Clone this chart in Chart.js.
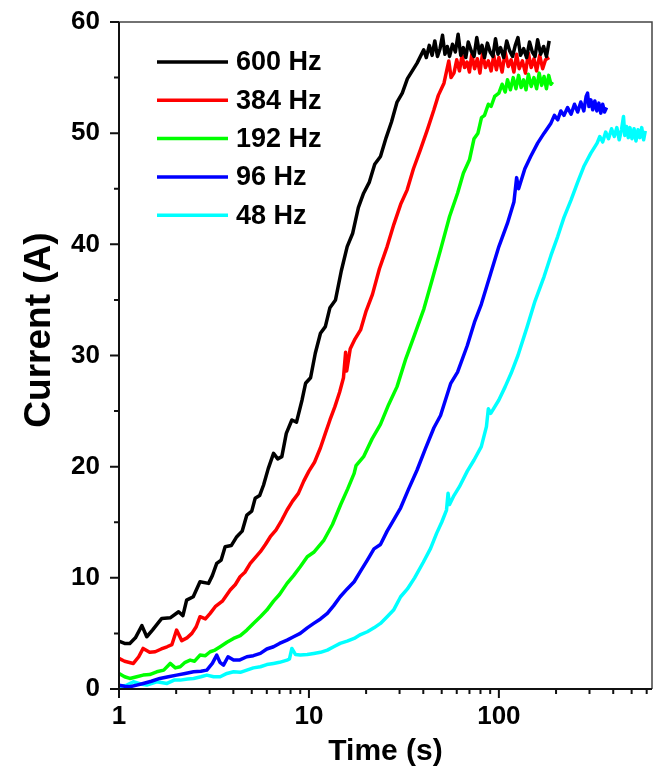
<!DOCTYPE html>
<html>
<head>
<meta charset="utf-8">
<script src="https://cdn.jsdelivr.net/npm/chart.js@4"></script>
<style>
  html, body { margin: 0; padding: 0; background: #fff; }
  #wrap { width: 656px; height: 771px; }
</style>
</head>
<body>
<div id="wrap"><canvas id="grafico" width="656" height="771"></canvas></div>
<script>
const legendas = ["600 Hz", "384 Hz", "192 Hz", "96 Hz", "48 Hz"];
const cores = ["#000000", "#ff0000", "#00ff00", "#0000ff", "#00ffff"];

// 600 Hz
const t600 = [1.0, 1.07, 1.14, 1.22, 1.32, 1.4, 1.5, 1.6, 1.68, 1.86, 2.06, 2.17, 2.27, 2.46, 2.67, 2.96, 3.1, 3.27, 3.45, 3.62, 3.9, 4.17, 4.45, 4.71, 5.0, 5.21, 5.5, 5.77, 6.1, 6.51, 6.85, 7.2, 7.6, 8.13, 8.6, 9.2, 9.6, 10.2, 10.8, 11.5, 12.2, 12.9, 13.8, 14.8, 15.9, 17.0, 18.2, 19.4, 20.8, 22.2, 23.8, 25.5, 27.2, 29.1, 31.0, 33.0, 35.0, 37.1,
  40.2, 41.5, 43, 44.5, 46, 47.5, 49, 50.5, 52, 53.5, 55, 57, 59, 61, 63, 65, 67, 69, 71.5, 74, 76.5, 79, 81.5, 84, 87, 90, 93, 96, 99, 102, 106, 110, 114, 118, 122, 126, 130, 135, 140, 145, 150, 155, 160, 166, 172, 178, 184];
const i600 = [4.3, 4.1, 4.1, 4.6, 5.7, 4.7, 5.3, 5.9, 6.35, 6.4, 6.95, 6.6, 8.0, 8.3, 9.65, 9.5, 10.2, 11.3, 11.6, 12.8, 12.9, 13.7, 14.2, 15.65, 16.0, 17.15, 17.4, 18.35, 19.8, 21.2, 20.7, 20.9, 23.0, 24.2, 24.0, 26.0, 27.5, 28.0, 30.2, 32.0, 32.6, 34.3, 35.0, 37.6, 39.8, 41.0, 43.3, 44.6, 45.6, 47.2, 47.9, 49.6, 51.0, 52.8, 53.6, 54.9, 55.6, 56.3,
  57.5, 56.8, 57.9, 57.0, 58.3, 56.9, 57.6, 58.8, 57.1, 57.8, 56.9, 58.0, 57.3, 58.9, 57.0, 57.7, 56.8, 58.2, 57.4, 56.9, 58.6, 57.2, 57.9, 56.8, 58.1, 57.3, 56.9, 58.5, 57.1, 57.7, 56.8, 58.3, 57.4, 56.9, 57.9, 58.6, 57.0, 57.6, 56.8, 58.2, 57.3, 56.9, 58.4, 57.1, 57.8, 56.9, 58.3];

// 384 Hz
const t384 = [1.0, 1.07, 1.19, 1.27, 1.34, 1.45, 1.55, 1.67, 1.79, 1.9, 2.01, 2.14, 2.28, 2.42, 2.55, 2.67, 2.85, 3.02, 3.21, 3.5, 3.85, 4.1, 4.34, 4.6, 4.91, 5.2, 5.55, 5.9, 6.26, 6.7, 7.2, 7.67, 8.2, 8.8, 9.39, 10.0, 10.7, 11.5, 12.2, 12.9, 13.7, 14.5, 15.2, 15.6, 15.8, 16.5, 17.5, 18.7, 20.0, 21.6, 23.5, 25.8, 28.0, 30.4, 32.9, 35.5, 38.6, 42, 45.5, 48, 51.4, 54.5, 56,
  58, 60, 62, 64, 66, 68, 70, 72, 74.5, 77, 79.5, 82, 85, 88, 91, 94, 97, 100, 104, 108, 112, 116, 120, 124, 128, 133, 138, 143, 148, 153, 158, 164, 170, 176, 184];
const i384 = [2.75, 2.5, 2.3, 2.9, 3.65, 3.3, 3.35, 3.6, 3.8, 4.0, 5.3, 4.35, 4.6, 5.0, 5.6, 6.5, 6.3, 6.8, 7.4, 7.9, 8.9, 9.4, 10.1, 10.5, 11.3, 11.8, 12.35, 13.0, 13.7, 14.3, 15.2, 16.1, 16.9, 17.6, 18.7, 19.6, 20.4, 21.7, 23.0, 24.2, 25.4, 26.7, 28.0, 30.3, 28.6, 30.6, 31.5, 32.3, 34.0, 35.5, 37.8, 39.8, 41.8, 43.6, 44.9, 46.8, 48.5, 50.3, 52.1, 53.4, 54.5, 56.5, 55.0,
  55.4, 56.6, 55.6, 57.0, 55.9, 56.4, 55.5, 57.1, 55.8, 56.7, 55.4, 57.2, 55.9, 56.5, 55.6, 57.0, 55.7, 56.8, 55.5, 57.3, 56.0, 56.6, 55.5, 57.1, 55.8, 56.5, 55.4, 57.2, 55.9, 56.7, 55.6, 57.0, 55.8, 56.6, 56.8];

// 192 Hz
const t192 = [1.0, 1.07, 1.14, 1.24, 1.34, 1.45, 1.58, 1.72, 1.86, 1.98, 2.1, 2.23, 2.37, 2.5, 2.67, 2.85, 3.02, 3.2, 3.41, 3.7, 4.01, 4.35, 4.71, 5.1, 5.55, 6.0, 6.51, 7.0, 7.67, 8.3, 9.0, 9.8, 10.6, 12.0, 13.3, 14.7, 16.0, 17.3, 17.7, 19.4, 21.5, 23.8, 26.3, 29.1, 32.2, 35.7, 40.3, 44.5, 49.3, 55,
  60.6, 65, 70, 74, 77.6, 81, 84, 88, 91, 95, 100, 104, 108, 111, 115, 119, 123, 127, 131, 135, 139, 143, 148, 153, 158, 163, 168, 173, 178, 183, 188, 192];
const i192 = [1.4, 1.1, 0.95, 1.1, 1.25, 1.3, 1.55, 1.7, 2.3, 1.9, 2.0, 2.4, 2.6, 2.5, 3.05, 3.0, 3.35, 3.5, 3.8, 4.2, 4.55, 4.8, 5.3, 5.9, 6.5, 7.1, 7.9, 8.5, 9.5, 10.2, 11.0, 11.9, 12.3, 13.4, 14.8, 16.6, 18.0, 19.4, 20.1, 20.9, 22.5, 23.8, 25.6, 27.2, 29.6, 31.7, 34.2, 36.8, 39.5, 42.5,
  44.6, 46.4, 47.6, 49.5, 50.0, 51.4, 51.6, 52.6, 52.4, 53.3, 53.6, 54.4, 53.7, 54.8, 53.9, 55.0, 54.0, 55.2, 54.1, 54.8, 53.9, 55.3, 54.2, 55.0, 54.0, 55.4, 54.3, 55.1, 54.0, 55.2, 54.4, 54.6];

// 96 Hz
const t96 = [1.0, 1.07, 1.14, 1.24, 1.34, 1.48, 1.64, 1.82, 2.01, 2.23, 2.47, 2.7, 2.9, 3.1, 3.27, 3.4, 3.55, 3.75, 4.01, 4.3, 4.71, 5.1, 5.55, 6.0, 6.51, 7.0, 7.67, 8.3, 9.0, 9.8, 10.6, 11.5, 12.5, 13.5, 14.6, 15.9, 17.3, 18.7, 20.3, 22.0, 23.8, 25.8, 27.9, 30.4, 33.5, 37.1, 41, 45.5, 49.3, 55.8, 60.6, 68.2, 74.4, 80.8, 90.6, 100, 111, 120, 124, 127, 137, 147, 160, 173,
  188, 196, 204, 212, 220, 230, 240, 250, 260, 270, 280, 288, 293, 298, 305, 312, 320, 328, 336, 344, 352, 360, 369];
const i96 = [0.35, 0.25, 0.2, 0.35, 0.5, 0.7, 0.95, 1.1, 1.25, 1.4, 1.55, 1.6, 1.7, 2.3, 3.05, 2.4, 2.15, 2.9, 2.6, 2.6, 2.9, 3.0, 3.2, 3.6, 3.8, 4.1, 4.4, 4.7, 5.0, 5.5, 5.9, 6.3, 6.8, 7.5, 8.3, 9.0, 9.65, 10.6, 11.6, 12.6, 13.0, 14.2, 15.2, 16.3, 18.0, 19.7, 21.6, 23.5, 24.6, 27.5, 28.5, 30.9, 33.0, 34.6, 37.4, 39.8, 41.9, 43.8, 46.0, 45.0, 46.8, 47.9, 49.1, 50.0,
  50.9, 51.6, 51.2, 52.0, 51.6, 52.3, 51.7, 52.6, 51.9, 52.8, 52.0, 53.3, 53.6, 52.4, 53.0, 52.1, 52.9, 52.0, 52.7, 51.8, 52.6, 51.9, 52.3];

// 48 Hz
const t48 = [1.0, 1.1, 1.19, 1.3, 1.4, 1.58, 1.79, 1.95, 2.1, 2.3, 2.47, 2.7, 2.9, 3.15, 3.41, 3.7, 4.01, 4.35, 4.71, 5.1, 5.55, 6.0, 6.51, 7.0, 7.67, 7.9, 8.13, 8.5, 9.0, 9.8, 10.6, 11.5, 12.5, 13.5, 14.6, 15.9, 17.3, 18.7, 20.3, 22.0, 23.8, 25.8, 27.9, 30.4, 33, 36, 40, 43.7, 47, 50, 53, 54, 55, 58, 62, 68.2, 74, 80.8, 86, 88, 90.6, 100, 108, 116, 126, 141, 155, 173, 188, 204, 220, 240, 260, 280, 305,
  329, 340, 352, 365, 378, 392, 405, 418, 430, 442, 453, 460, 470, 480, 490, 502, 515, 527, 540, 552, 565, 578, 590];
const i48 = [0.2, 0.35, 0.65, 0.45, 0.35, 0.65, 0.5, 0.8, 0.8, 0.9, 0.95, 1.1, 1.25, 1.1, 1.1, 1.4, 1.55, 1.5, 1.7, 1.9, 2.0, 2.2, 2.3, 2.4, 2.6, 2.7, 3.65, 3.1, 3.05, 3.1, 3.2, 3.3, 3.5, 3.8, 4.1, 4.3, 4.55, 4.9, 5.15, 5.5, 5.9, 6.5, 7.1, 8.3, 9.0, 10.0, 11.4, 12.65, 14.0, 15.0, 16.1, 17.6, 16.6, 17.4, 18.2, 19.6, 20.6, 21.8, 23.6, 25.2, 24.8, 26.0, 27.2, 28.4, 30.0, 32.6, 34.9, 37.1, 39.0, 40.7, 42.4, 44.0, 45.6, 47.0, 48.2,
  49.1, 49.7, 49.2, 50.1, 49.5, 50.4, 49.7, 50.5, 49.4, 50.3, 51.5, 49.8, 50.6, 49.6, 50.5, 49.5, 50.4, 49.3, 50.3, 49.6, 50.5, 49.4, 50.2];

const tempos = [t600, t384, t192, t96, t48];
const correntes = [i600, i384, i192, i96, i48];

const yMaiores = [0, 10, 20, 30, 40, 50, 60];
const yMenores = [5, 15, 25, 35, 45, 55];
const xMaiores = [1, 10, 100];
const xMenores = [2, 3, 4, 5, 6, 7, 8, 9, 20, 30, 40, 50, 60, 70, 80, 90, 200, 300, 400, 500, 600];

const fonte = "'Liberation Sans', Arial, sans-serif";

const datasets = legendas.map((nome, k) => ({
  label: nome,
  data: tempos[k].map((t, j) => ({ x: t, y: correntes[k][j] })),
  borderColor: cores[k],
  backgroundColor: cores[k],
  borderWidth: 3.5,
  borderJoinStyle: "round",
  pointRadius: 0,
  tension: 0,
  fill: false
}));

// eixos, moldura, titulos e legenda
const moldura = {
  id: "moldura",
  afterDraw(chart) {
    const ctx = chart.ctx;
    const a = chart.chartArea;
    const xs = chart.scales.x, ys = chart.scales.y;
    ctx.save();
    ctx.strokeStyle = "#444";
    ctx.lineWidth = 1.5;
    ctx.beginPath();
    ctx.moveTo(a.left, a.top);
    ctx.lineTo(a.right, a.top);
    ctx.lineTo(a.right, a.bottom);
    ctx.stroke();

    ctx.strokeStyle = "#111";
    ctx.lineWidth = 2;
    ctx.beginPath();
    ctx.moveTo(a.left, a.top);
    ctx.lineTo(a.left, a.bottom);
    ctx.lineTo(a.right, a.bottom);
    ctx.stroke();

    ctx.beginPath();
    yMaiores.forEach(v => { const p = ys.getPixelForValue(v); ctx.moveTo(a.left - 9, p); ctx.lineTo(a.left, p); });
    yMenores.forEach(v => { const p = ys.getPixelForValue(v); ctx.moveTo(a.left - 5, p); ctx.lineTo(a.left, p); });
    xMaiores.forEach(v => { const p = xs.getPixelForValue(v); ctx.moveTo(p, a.bottom); ctx.lineTo(p, a.bottom + 9); });
    xMenores.forEach(v => { const p = xs.getPixelForValue(v); ctx.moveTo(p, a.bottom); ctx.lineTo(p, a.bottom + 5); });
    ctx.stroke();

    ctx.fillStyle = "#000";
    ctx.textAlign = "center";
    ctx.textBaseline = "middle";
    ctx.font = "bold 30px " + fonte;
    ctx.fillText("Time (s)", (a.left + a.right) / 2, 752);
    ctx.save();
    ctx.translate(40, 330);
    ctx.rotate(-Math.PI / 2);
    ctx.font = "bold 37px " + fonte;
    ctx.fillText("Current (A)", 0, 0);
    ctx.restore();

    ctx.textAlign = "left";
    ctx.font = "bold 27px " + fonte;
    legendas.forEach((nome, k) => {
      const y = 62 + k * 38.3;
      ctx.strokeStyle = cores[k];
      ctx.lineWidth = 3.5;
      ctx.beginPath();
      ctx.moveTo(157, y);
      ctx.lineTo(228, y);
      ctx.stroke();
      ctx.fillText(nome, 236, y + 1);
    });
    ctx.restore();
  }
};

new Chart(document.getElementById("grafico"), {
  type: "line",
  data: { datasets },
  plugins: [moldura],
  options: {
    responsive: false,
    animation: false,
    layout: { padding: { top: 22, right: 4, left: 0, bottom: 0 } },
    plugins: { legend: { display: false }, tooltip: { enabled: false } },
    scales: {
      x: {
        type: "logarithmic",
        position: "bottom",
        min: 1,
        max: 640,
        grid: { display: false, drawTicks: true, tickLength: 12 },
        border: { display: false },
        afterFit: s => { s.height = 82; },
        afterBuildTicks: s => { s.ticks = xMaiores.map(v => ({ value: v })); },
        ticks: {
          autoSkip: false,
          maxRotation: 0,
          padding: 0,
          color: "#000",
          font: { family: fonte, weight: "bold", size: 26 },
          callback: v => String(v)
        }
      },
      y: {
        min: 0,
        max: 60,
        grid: { display: false, drawTicks: true, tickLength: 19 },
        border: { display: false },
        afterFit: s => { s.width = 119; },
        afterBuildTicks: s => { s.ticks = yMaiores.map(v => ({ value: v })); },
        ticks: {
          padding: 0,
          color: "#000",
          font: { family: fonte, weight: "bold", size: 26 }
        }
      }
    }
  }
});
</script>
</body>
</html>
